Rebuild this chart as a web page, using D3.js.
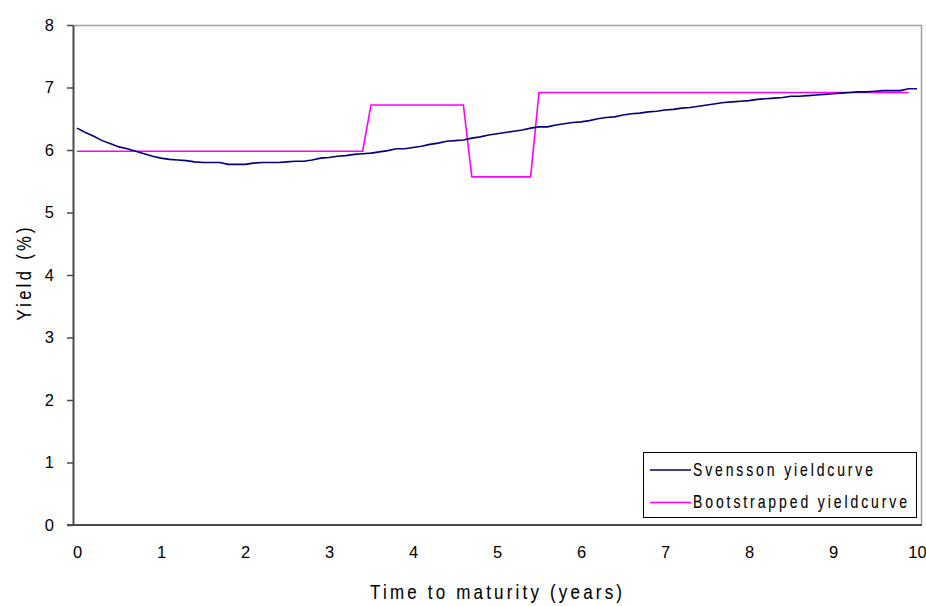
<!DOCTYPE html>
<html>
<head>
<meta charset="utf-8">
<script src="https://cdn.jsdelivr.net/npm/d3@7/dist/d3.min.js"></script>
<style>
  body { margin: 0; background: #fff; }
  svg { display: block; font-family: "Liberation Sans", Arial, sans-serif; }
</style>
</head>
<body>
<svg id="chart" width="926" height="606"></svg>
<script>
// Maturities in years, sampled every 0.1 year
const maturities = d3.range(0, 101).map(i => +(i / 10).toFixed(1));

// Svensson fitted yield curve (%), maturities 0.0 .. 10.0
const svensson = [
  6.35, 6.28, 6.22, 6.15, 6.10, 6.05, 6.02, 5.98, 5.94, 5.90,
  5.87, 5.85, 5.84, 5.83, 5.81, 5.80, 5.80, 5.80, 5.77, 5.77,
  5.77, 5.79, 5.80, 5.80, 5.80, 5.81, 5.82, 5.82, 5.84, 5.87,
  5.88, 5.90, 5.91, 5.93, 5.94, 5.95, 5.97, 5.99, 6.02, 6.02,
  6.04, 6.06, 6.09, 6.11, 6.14, 6.15, 6.16, 6.19, 6.21, 6.24,
  6.26, 6.28, 6.30, 6.32, 6.35, 6.37, 6.37, 6.40, 6.42, 6.44,
  6.45, 6.47, 6.50, 6.52, 6.53, 6.56, 6.58, 6.59, 6.61, 6.62,
  6.64, 6.65, 6.67, 6.68, 6.70, 6.72, 6.74, 6.76, 6.77, 6.78,
  6.79, 6.81, 6.82, 6.83, 6.84, 6.86, 6.86, 6.87, 6.88, 6.89,
  6.90, 6.91, 6.92, 6.93, 6.93, 6.94, 6.95, 6.95, 6.95, 6.98,
  6.98
];

// Bootstrapped yield curve (%), maturities 0.0 .. 9.9
const bootstrapped = [
  5.98, 5.98, 5.98, 5.98, 5.98, 5.98, 5.98, 5.98, 5.98, 5.98,
  5.98, 5.98, 5.98, 5.98, 5.98, 5.98, 5.98, 5.98, 5.98, 5.98,
  5.98, 5.98, 5.98, 5.98, 5.98, 5.98, 5.98, 5.98, 5.98, 5.98,
  5.98, 5.98, 5.98, 5.98, 5.98, 6.72, 6.72, 6.72, 6.72, 6.72,
  6.72, 6.72, 6.72, 6.72, 6.72, 6.72, 6.72, 5.57, 5.57, 5.57,
  5.57, 5.57, 5.57, 5.57, 5.57, 6.92, 6.92, 6.92, 6.92, 6.92,
  6.92, 6.92, 6.92, 6.92, 6.92, 6.92, 6.92, 6.92, 6.92, 6.92,
  6.92, 6.92, 6.92, 6.92, 6.92, 6.92, 6.92, 6.92, 6.92, 6.92,
  6.92, 6.92, 6.92, 6.92, 6.92, 6.92, 6.92, 6.92, 6.92, 6.92,
  6.92, 6.92, 6.92, 6.92, 6.92, 6.92, 6.92, 6.92, 6.92, 6.92
];

const xTicks = [0, 1, 2, 3, 4, 5, 6, 7, 8, 9, 10];
const yTicks = [0, 1, 2, 3, 4, 5, 6, 7, 8];
const seriesNames = ["Svensson yieldcurve", "Bootstrapped yieldcurve"];
const seriesColors = ["#000080", "#ff00ff"];

const svg = d3.select("#chart");

// Narrow, widely tracked text: glyphs squeezed horizontally, spread to a fixed length
function narrowText(parent, str, opts) {
  const sx = opts.squeeze;
  const g = parent.append("g")
    .attr("transform", `translate(${opts.x},${opts.y}) rotate(${opts.rotate || 0}) scale(${sx},1)`);
  g.append("text")
    .attr("x", 0).attr("y", 0)
    .attr("text-anchor", opts.anchor || "start")
    .attr("font-size", opts.size)
    .attr("fill", "#000")
    .attr("stroke", "#000")
    .attr("stroke-width", 0.1)
    .attr("textLength", opts.length / sx)
    .attr("lengthAdjust", "spacing")
    .text(str);
  return g;
}

// Plot frame
const frame = { left: 73, right: 921, top: 25, bottom: 525 };
const x = d3.scaleLinear().domain([0, 10]).range([77, 917]);
const y = d3.scaleLinear().domain([0, 8]).range([frame.bottom, frame.top]);

// Gray top and right border of the plot area
svg.append("path")
  .attr("d", `M${frame.left},${frame.top + 0.5}H${frame.right + 0.5}V${frame.bottom}`)
  .attr("fill", "none")
  .attr("stroke", "#a0a0a0")
  .attr("stroke-width", 1.5);

// Y axis
const yAxis = svg.append("g")
  .attr("transform", `translate(${frame.left},0)`)
  .call(d3.axisLeft(y).tickValues(yTicks).tickSize(6).tickPadding(13).tickSizeOuter(0));
yAxis.select(".domain").attr("stroke", "#4a4a4a").attr("stroke-width", 2);
yAxis.selectAll(".tick line").attr("stroke", "#4a4a4a").attr("stroke-width", 1.5);
yAxis.selectAll(".tick text").attr("font-size", 16.5).attr("fill", "#000");

// X axis (labels only, no tick marks)
const xAxis = svg.append("g")
  .attr("transform", `translate(0,${frame.bottom})`)
  .call(d3.axisBottom(x).tickValues(xTicks).tickSize(0).tickPadding(21).tickSizeOuter(0));
xAxis.select(".domain").remove();
xAxis.selectAll(".tick text").attr("font-size", 16.5).attr("fill", "#000");
svg.append("line")
  .attr("x1", 67).attr("x2", frame.right + 1)
  .attr("y1", frame.bottom).attr("y2", frame.bottom)
  .attr("stroke", "#4a4a4a").attr("stroke-width", 2);

// Series lines
const line = d3.line()
  .x((d, i) => x(maturities[i]))
  .y(d => y(d));

svg.append("path")
  .datum(bootstrapped)
  .attr("d", line)
  .attr("fill", "none")
  .attr("stroke", seriesColors[1])
  .attr("stroke-width", 1.6);

svg.append("path")
  .datum(svensson)
  .attr("d", line)
  .attr("fill", "none")
  .attr("stroke", seriesColors[0])
  .attr("stroke-width", 1.6);

// Axis titles
narrowText(svg, "Time to maturity (years)", {
  x: 370, y: 599, size: 20, squeeze: 0.85, length: 252
});
narrowText(svg, "Yield (%)", {
  x: 31, y: 274, rotate: -90, size: 19.5, squeeze: 0.85, length: 93, anchor: "middle"
});

// Legend
const legend = svg.append("g");
legend.append("rect")
  .attr("x", 643.5).attr("y", 452.5)
  .attr("width", 273).attr("height", 65)
  .attr("fill", "#fff")
  .attr("stroke", "#000")
  .attr("stroke-width", 1);

const legendWidths = [180, 214];
seriesNames.forEach((name, i) => {
  const ly = 470 + i * 32.5;
  legend.append("line")
    .attr("x1", 650).attr("x2", 691)
    .attr("y1", ly).attr("y2", ly)
    .attr("stroke", seriesColors[i])
    .attr("stroke-width", 1.6);
  narrowText(legend, name, {
    x: 693, y: ly + 5.5, size: 17.5, squeeze: 0.8, length: legendWidths[i]
  });
});
</script>
</body>
</html>
